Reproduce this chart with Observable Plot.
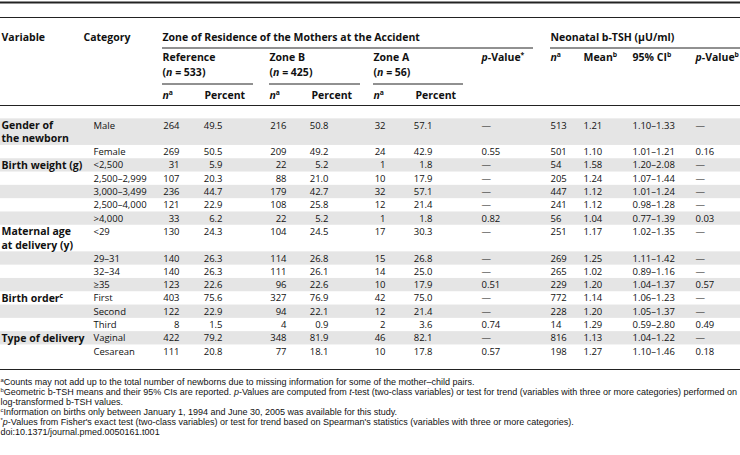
<!DOCTYPE html>
<html><head><meta charset="utf-8">
<script src="https://cdn.jsdelivr.net/npm/d3@7"></script>
<script src="https://cdn.jsdelivr.net/npm/@observablehq/plot@0.6"></script>
<style>html,body{margin:0;padding:0;background:#fff} svg{display:block}</style>
</head><body><div id="chart"></div>
<script>
// ---------- data ----------
const variables = ["Gender of\nthe newborn", "Birth weight (g)", "Maternal age\nat delivery (y)", "Birth order{c}", "Type of delivery"];
const groupSizes = [2, 5, 4, 3, 2];
const categories = ["Male","Female","<2,500","2,500–2,999","3,000–3,499","2,500–4,000",">4,000","<29","29–31","32–34","≥35","First","Second","Third","Vaginal","Cesarean"];
const refN   = [264,269,31,107,236,121,33,130,140,140,123,403,122,8,422,111];
const refPct = [49.5,50.5,5.9,20.3,44.7,22.9,6.2,24.3,26.3,26.3,22.6,75.6,22.9,1.5,79.2,20.8];
const zoneBN   = [216,209,22,88,179,108,22,104,114,111,96,327,94,4,348,77];
const zoneBPct = [50.8,49.2,5.2,21.0,42.7,25.8,5.2,24.5,26.8,26.1,22.6,76.9,22.1,0.9,81.9,18.1];
const zoneAN   = [32,24,1,10,32,12,1,17,15,14,10,42,12,2,46,10];
const zoneAPct = [57.1,42.9,1.8,17.9,57.1,21.4,1.8,30.3,26.8,25.0,17.9,75.0,21.4,3.6,82.1,17.8];
const pZone  = ["—","0.55","—","—","—","—","0.82","—","—","—","0.51","—","—","0.74","—","0.57"];
const tshN   = [513,501,54,205,447,241,56,251,269,265,229,772,228,14,816,198];
const tshMean= ["1.21","1.10","1.58","1.24","1.12","1.12","1.04","1.17","1.25","1.02","1.20","1.14","1.20","1.29","1.13","1.27"];
const tshCI  = ["1.10–1.33","1.01–1.21","1.20–2.08","1.07–1.44","1.01–1.24","0.98–1.28","0.77–1.39","1.02–1.35","1.11–1.42","0.89–1.16","1.04–1.37","1.06–1.23","1.05–1.37","0.59–2.80","1.04–1.22","1.10–1.46"];
const pTsh   = ["—","0.16","—","—","—","—","0.03","—","—","—","0.57","—","—","0.49","—","0.18"];
const groupNames = ["Zone of Residence of the Mothers at the Accident", "Neonatal b-TSH (μU/ml)"];
const zoneNames = ["Reference", "Zone B", "Zone A"];
const zoneTotals = [533, 425, 56];
const footnotes = [
  "{a}Counts may not add up to the total number of newborns due to missing information for some of the mother–child pairs.",
  "{b}Geometric b-TSH means and their 95% CIs are reported. _p_-Values are computed from _t_-test (two-class variables) or test for trend (variables with three or more categories) performed on",
  "log-transformed b-TSH values.",
  "{c}Information on births only between January 1, 1994 and June 30, 2005 was available for this study.",
  "{*}_p_-Values from Fisher's exact test (two-class variables) or test for trend based on Spearman's statistics (variables with three or more categories).",
  "doi:10.1371/journal.pmed.0050161.t001"
];

// ---------- layout ----------
const W = 740, H = 455;
const rowTop = 125, rowStep = 13.3;
const lineY = i => rowTop + rowStep * i;
const fmt1 = d3.format(".1f");
const columns = [
  {x: 93,  anchor: "start", get: i => categories[i]},
  {x: 179, anchor: "end",   get: i => String(refN[i])},
  {x: 222, anchor: "end",   get: i => fmt1(refPct[i])},
  {x: 286, anchor: "end",   get: i => String(zoneBN[i])},
  {x: 328, anchor: "end",   get: i => fmt1(zoneBPct[i])},
  {x: 385, anchor: "end",   get: i => String(zoneAN[i])},
  {x: 432, anchor: "end",   get: i => fmt1(zoneAPct[i])},
  {x: 481, anchor: "start", get: i => pZone[i]},
  {x: 550, anchor: "start", get: i => String(tshN[i])},
  {x: 583, anchor: "start", get: i => tshMean[i]},
  {x: 632, anchor: "start", get: i => tshCI[i]},
  {x: 695, anchor: "start", get: i => pTsh[i]}
];

// records
const records = [];
let line = 0, idx = 0;
groupSizes.forEach((n, g) => {
  for (let k = 0; k < n; k++) {
    const labelLines = k === 0 ? variables[g].split("\n") : [];
    const nl = Math.max(1, labelLines.length);
    records.push({i: idx, start: line, lines: nl, labelLines});
    idx++; line += nl;
  }
});
const bands = records.filter(r => r.i % 2 === 0).map(r => ({
  y1: lineY(r.start) - rowStep / 2, y2: lineY(r.start + r.lines - 1) + rowStep / 2
}));
const labelCells = records.flatMap(r => r.labelLines.map((t, k) => ({x: 1, y: lineY(r.start + k), text: t})));
const cells = records.flatMap(r => columns.map(c => ({x: c.x, y: lineY(r.start), text: c.get(r.i), anchor: c.anchor})));

const hy = [37, 57, 72, 95];
const zoneX = [162, 269, 373];
const headBold = [
  {x: 1, y: hy[0], text: "Variable"},
  {x: 83, y: hy[0], text: "Category"},
  {x: 162, y: hy[0], text: groupNames[0]},
  {x: 550, y: hy[0], text: groupNames[1]},
  ...zoneNames.map((z, k) => ({x: zoneX[k], y: hy[1], text: z})),
  ...zoneTotals.map((n, k) => ({x: zoneX[k], y: hy[2], text: `(_n_ = ${n})`})),
  ...zoneX.flatMap(x => [{x, y: hy[3], text: "_n_{a}"}, {x: x + 42, y: hy[3], text: "Percent"}]),
  {x: 481, y: hy[1], text: "_p_-Value{*}"},
  {x: 550, y: hy[1], text: "_n_{a}"},
  {x: 583, y: hy[1], text: "Mean{b}"},
  {x: 632, y: hy[1], text: "95% CI{b}"},
  {x: 695, y: hy[1], text: "_p_-Value{b}"}
];
const rules = [
  {y: 2, x1: 0, x2: W, w: 2},
  {y: 17, x1: 0, x2: W, w: 1},
  {y: 47.5, x1: 162, x2: 533, w: 1},
  {y: 47.5, x1: 550, x2: W, w: 1},
  {y: 83.5, x1: 162, x2: 253, w: 1},
  {y: 83.5, x1: 269, x2: 360, w: 1},
  {y: 83.5, x1: 373, x2: 463, w: 1},
  {y: 105, x1: 0, x2: W, w: 1},
  {y: 369, x1: 0, x2: W, w: 1}
];
const footY = 382, footStep = 9.9;
const footCells = footnotes.map((t, k) => ({x: 0, y: footY + footStep * k, text: t}));

const chart = Plot.plot({
  width: W, height: H, margin: 0,
  x: {domain: [0, W], range: [0, W], axis: null},
  y: {domain: [0, H], range: [0, H], axis: null},
  style: {fontFamily: "'Open Sans', sans-serif", fontSize: "9.5px", background: "#fff", color: "#111"},
  marks: [
    Plot.rectY(bands, {x1: 0, x2: W, y1: "y1", y2: "y2", fill: "#e5e5e5"}),
    ...rules.map(r => Plot.ruleY([r], {y: "y", x1: "x1", x2: "x2", stroke: "#222", strokeWidth: r.w})),
    Plot.text(headBold, {x: "x", y: "y", text: "text", textAnchor: "start", fontWeight: "bold", fontSize: 10.5, fill: "#111"}),
    Plot.text(labelCells, {x: "x", y: "y", text: "text", textAnchor: "start", fontWeight: "bold", fontSize: 10.5, fill: "#111"}),
    Plot.text(cells.filter(c => c.anchor === "start"), {x: "x", y: "y", text: "text", textAnchor: "start", fill: "#111"}),
    Plot.text(cells.filter(c => c.anchor === "end"), {x: "x", y: "y", text: "text", textAnchor: "end", fill: "#111"}),
    Plot.text(footCells, {x: "x", y: "y", text: "text", textAnchor: "start", fill: "#111",
      fontFamily: "'Liberation Sans Narrow', sans-serif", fontSize: 9})
  ]
});

// rich text: {x} superscript, _x_ italic
chart.querySelectorAll("text").forEach(t => {
  const s = t.textContent;
  if (!/[{_]/.test(s)) return;
  const parts = s.split(/(\{[^}]*\}|_[^_]+_)/).filter(p => p);
  t.textContent = "";
  for (const p of parts) {
    const ts = document.createElementNS("http://www.w3.org/2000/svg", "tspan");
    if (p[0] === "{") {
      ts.textContent = p.slice(1, -1);
      ts.setAttribute("font-size", "0.65em");
      ts.setAttribute("baseline-shift", "super");
    } else if (p[0] === "_") {
      ts.textContent = p.slice(1, -1);
      ts.setAttribute("font-style", "italic");
    } else ts.textContent = p;
    t.appendChild(ts);
  }
});
document.getElementById("chart").appendChild(chart);
</script>
</body></html>
